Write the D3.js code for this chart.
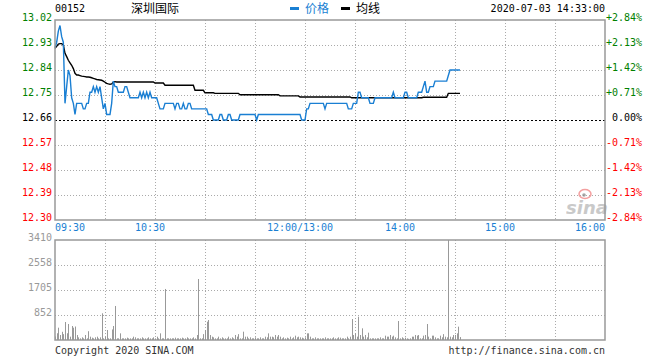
<!DOCTYPE html>
<html>
<head>
<meta charset="utf-8">
<script src="https://cdn.jsdelivr.net/npm/d3@7/dist/d3.min.js"></script>
<style>
html,body{margin:0;padding:0;background:#fff;}
svg text{font-family:"DejaVu Sans Mono",monospace;font-size:10px;}
</style>
</head>
<body>
<svg id="chart" width="660" height="360"></svg>
<script>
// ---------- data ----------
const stockCode = "00152";
const stockName = "深圳国际";
const timestamp = "2020-07-03 14:33:00";
const prevClose = 12.66;
const priceTicks = [13.02, 12.93, 12.84, 12.75, 12.66, 12.57, 12.48, 12.39, 12.30];
const pctTicks = ["+2.84%", "+2.13%", "+1.42%", "+0.71%", "0.00%", "-0.71%", "-1.42%", "-2.13%", "-2.84%"];
const timeLabels = ["09:30", "10:30", "12:00/13:00", "14:00", "15:00", "16:00"];
const timeLabelMinutes = [0, 60, 150, 210, 270, 330];
const gridMinutes = [30, 60, 90, 120, 150, 180, 210, 240, 270, 300];
const volTicks = [3410, 2558, 1705, 852];

// price per minute (09:30 .. 14:33, lunch skipped)
const price = [
12.92,12.94,12.98,13.00,12.96,12.94,12.72,12.78,12.84,12.82,
12.74,12.72,12.68,12.72,12.72,12.72,12.72,12.70,12.70,12.72,
12.72,12.76,12.76,12.78,12.76,12.78,12.76,12.78,12.74,12.70,
12.72,12.68,12.68,12.68,12.72,12.80,12.78,12.78,12.76,12.76,
12.76,12.76,12.78,12.78,12.76,12.74,12.74,12.74,12.74,12.74,
12.74,12.76,12.74,12.76,12.74,12.76,12.74,12.76,12.74,12.74,
12.74,12.74,12.72,12.70,12.70,12.70,12.72,12.72,12.72,12.72,
12.72,12.72,12.70,12.72,12.72,12.70,12.70,12.72,12.70,12.70,
12.72,12.72,12.70,12.70,12.70,12.70,12.70,12.70,12.70,12.70,
12.70,12.70,12.68,12.68,12.68,12.66,12.66,12.66,12.66,12.68,
12.68,12.66,12.66,12.66,12.68,12.68,12.66,12.66,12.66,12.66,
12.66,12.68,12.68,12.68,12.68,12.68,12.68,12.68,12.68,12.68,
12.68,12.66,12.68,12.68,12.68,12.68,12.68,12.68,12.68,12.68,
12.68,12.68,12.68,12.68,12.68,12.68,12.68,12.68,12.68,12.68,
12.68,12.68,12.68,12.68,12.68,12.68,12.68,12.68,12.66,12.66,
12.66,12.70,12.70,12.72,12.72,12.72,12.72,12.72,12.72,12.72,
12.72,12.72,12.70,12.72,12.72,12.72,12.72,12.72,12.72,12.72,
12.72,12.72,12.72,12.72,12.72,12.72,12.70,12.70,12.70,12.72,
12.72,12.72,12.76,12.76,12.74,12.74,12.74,12.74,12.74,12.72,
12.72,12.72,12.74,12.74,12.74,12.74,12.74,12.74,12.74,12.74,
12.74,12.74,12.74,12.76,12.74,12.74,12.74,12.74,12.74,12.74,
12.76,12.76,12.74,12.74,12.74,12.74,12.74,12.74,12.76,12.76,
12.76,12.78,12.80,12.76,12.76,12.78,12.78,12.78,12.80,12.80,
12.80,12.80,12.80,12.80,12.80,12.80,12.82,12.84,12.84,12.84,
12.84,12.84,12.84,12.84
];

// average price per minute
const avgPrice = [
12.918,12.925,12.933,12.935,12.935,12.930,12.900,12.888,12.875,12.866,
12.857,12.845,12.828,12.822,12.822,12.820,12.818,12.817,12.816,12.815,
12.815,12.814,12.812,12.810,12.808,12.806,12.805,12.804,12.803,12.800,
12.796,12.792,12.790,12.789,12.790,12.796,12.798,12.797,12.797,12.797,
12.797,12.797,12.797,12.797,12.797,12.797,12.797,12.797,12.797,12.797,
12.797,12.797,12.797,12.797,12.797,12.797,12.797,12.797,12.797,12.797,
12.793,12.793,12.793,12.793,12.793,12.793,12.785,12.785,12.785,12.785,
12.785,12.785,12.785,12.785,12.785,12.785,12.785,12.785,12.785,12.785,
12.785,12.785,12.785,12.785,12.767,12.767,12.767,12.767,12.767,12.767,
12.758,12.758,12.758,12.758,12.758,12.758,12.756,12.756,12.756,12.756,
12.756,12.756,12.756,12.756,12.756,12.756,12.756,12.756,12.756,12.756,
12.756,12.751,12.751,12.751,12.751,12.751,12.751,12.751,12.751,12.751,
12.751,12.751,12.751,12.751,12.751,12.751,12.751,12.751,12.751,12.751,
12.751,12.751,12.751,12.751,12.751,12.747,12.747,12.747,12.747,12.747,
12.747,12.747,12.747,12.747,12.747,12.747,12.747,12.743,12.743,12.743,
12.743,12.743,12.743,12.743,12.743,12.743,12.743,12.743,12.743,12.743,
12.743,12.743,12.743,12.743,12.743,12.743,12.743,12.743,12.743,12.743,
12.743,12.743,12.743,12.743,12.743,12.743,12.743,12.743,12.740,12.740,
12.740,12.740,12.740,12.740,12.740,12.740,12.740,12.740,12.740,12.740,
12.740,12.740,12.740,12.740,12.740,12.740,12.740,12.740,12.740,12.740,
12.740,12.740,12.740,12.740,12.740,12.740,12.740,12.740,12.740,12.740,
12.740,12.740,12.740,12.740,12.740,12.740,12.740,12.740,12.740,12.740,
12.740,12.742,12.742,12.742,12.742,12.742,12.742,12.742,12.742,12.742,
12.742,12.742,12.742,12.742,12.742,12.742,12.756,12.756,12.756,12.756,
12.756,12.756,12.756,12.756
];

// volume per minute
const volume = [
120,230,420,170,280,200,614,230,545,114,
477,420,460,170,91,57,91,57,170,57,
300,114,80,57,91,114,57,91,910,57,
114,341,57,57,360,477,1160,57,57,227,
57,57,57,80,57,57,57,114,91,57,
57,57,91,57,57,57,91,57,57,91,
57,114,57,227,57,57,1740,57,57,57,
57,57,80,57,57,57,80,57,57,91,
57,57,57,91,57,170,2080,57,57,200,
341,624,682,170,114,91,57,57,114,57,
91,57,57,57,114,57,91,57,170,114,
200,57,57,284,114,114,57,91,57,57,
91,57,57,91,57,57,114,91,227,114,
114,91,170,114,170,114,57,91,57,80,
57,114,57,91,148,91,114,91,80,57,
91,227,227,114,57,57,91,57,57,57,
57,57,91,57,57,57,57,91,57,57,
91,80,57,57,57,114,57,114,716,170,
227,114,795,170,398,114,170,91,250,57,
57,57,57,57,57,91,57,57,148,114,
114,170,114,148,91,57,648,57,91,57,
80,57,40,57,114,114,170,148,170,57,
57,148,170,545,114,57,148,148,91,57,
57,148,91,200,114,91,3410,114,91,170,
170,227,455,100
];

// ---------- drawing ----------
const svg = d3.select("#chart");
const blue = "#1a7fd3";
const green = "#008000";
const red = "#ff0000";
const gridColor = "#aaaaaa";
const borderColor = "#999999";

const x = d3.scaleLinear().domain([0, 330]).range([55, 605]);
const y = d3.scaleLinear().domain([12.30, 13.02]).range([220, 20]);
const yv = d3.scaleLinear().domain([0, 3410]).range([340, 240]);

// header
svg.append("text").attr("x", 55).attr("y", 12).text(stockCode);
svg.append("text").attr("x", 131).attr("y", 13)
  .style("font-family", "'Noto Sans CJK SC', sans-serif").style("font-size", "12px").text(stockName);
svg.append("rect").attr("x", 290).attr("y", 7).attr("width", 9).attr("height", 3).attr("fill", blue);
svg.append("text").attr("x", 305).attr("y", 13).attr("fill", blue)
  .style("font-family", "'Noto Sans CJK SC', sans-serif").style("font-size", "12px").text("价格");
svg.append("rect").attr("x", 341).attr("y", 7).attr("width", 9).attr("height", 3).attr("fill", "#000");
svg.append("text").attr("x", 356).attr("y", 13)
  .style("font-family", "'Noto Sans CJK SC', sans-serif").style("font-size", "12px").text("均线");
svg.append("text").attr("x", 605).attr("y", 12).attr("text-anchor", "end").text(timestamp);

// price panel grid
const pg = svg.append("g");
pg.selectAll("line.h").data(priceTicks.filter(v => v !== 13.02 && v !== 12.30 && v !== prevClose))
  .join("line").attr("class", "h")
  .attr("x1", x(0)).attr("x2", x(330))
  .attr("y1", d => Math.round(y(d)) + 0.5).attr("y2", d => Math.round(y(d)) + 0.5)
  .attr("stroke", gridColor).attr("stroke-dasharray", "1,2");
pg.selectAll("line.v").data(gridMinutes).join("line").attr("class", "v")
  .attr("x1", d => Math.round(x(d)) + 0.5).attr("x2", d => Math.round(x(d)) + 0.5)
  .attr("y1", y(13.02)).attr("y2", y(12.30))
  .attr("stroke", gridColor).attr("stroke-dasharray", "1,2");

// volume panel grid
const vg = svg.append("g");
vg.selectAll("line.h").data(volTicks.slice(1))
  .join("line").attr("class", "h")
  .attr("x1", x(0)).attr("x2", x(330))
  .attr("y1", d => Math.round(yv(d)) + 0.5).attr("y2", d => Math.round(yv(d)) + 0.5)
  .attr("stroke", gridColor).attr("stroke-dasharray", "1,2");
vg.selectAll("line.v").data(gridMinutes).join("line").attr("class", "v")
  .attr("x1", d => Math.round(x(d)) + 0.5).attr("x2", d => Math.round(x(d)) + 0.5)
  .attr("y1", yv(3410)).attr("y2", yv(0))
  .attr("stroke", gridColor).attr("stroke-dasharray", "1,2");

// sina watermark
const wm = svg.append("g").attr("opacity", 0.75);
wm.append("text").attr("x", 566).attr("y", 214)
  .style("font-family", "'DejaVu Sans', sans-serif").style("font-size", "18px")
  .style("font-style", "italic").style("font-weight", "bold")
  .attr("fill", "#b8b8b8").text("sina");
wm.append("ellipse").attr("cx", 585).attr("cy", 194).attr("rx", 6).attr("ry", 4.5)
  .attr("fill", "none").attr("stroke", "#f08080").attr("stroke-width", 1.5);
wm.append("circle").attr("cx", 584).attr("cy", 195).attr("r", 1.8).attr("fill", "#888");

// volume bars
svg.append("g").selectAll("rect").data(volume).join("rect")
  .attr("x", (d, i) => Math.round(x(i)))
  .attr("y", d => yv(d))
  .attr("width", 1)
  .attr("height", d => yv(0) - yv(d))
  .attr("fill", "#999999");

// prev close dashed line
svg.append("line")
  .attr("x1", x(0)).attr("x2", x(330))
  .attr("y1", Math.round(y(prevClose)) + 0.5).attr("y2", Math.round(y(prevClose)) + 0.5)
  .attr("stroke", "#000").attr("stroke-dasharray", "2,2");

// lines
const minuteLine = d3.line().x((d, i) => x(i)).y(d => y(d));
svg.append("path").datum(avgPrice).attr("d", minuteLine)
  .attr("fill", "none").attr("stroke", "#000").attr("stroke-width", 1.4);
svg.append("path").datum(price).attr("d", minuteLine)
  .attr("fill", "none").attr("stroke", blue).attr("stroke-width", 1.4);

// borders
svg.append("rect").attr("x", x(0)).attr("y", y(13.02))
  .attr("width", x(330) - x(0)).attr("height", y(12.30) - y(13.02))
  .attr("fill", "none").attr("stroke", borderColor).attr("stroke-width", 1.5);
svg.append("rect").attr("x", x(0)).attr("y", yv(3410))
  .attr("width", x(330) - x(0)).attr("height", yv(0) - yv(3410))
  .attr("fill", "none").attr("stroke", borderColor).attr("stroke-width", 1.5);

// price axis labels
const colorFor = v => v > prevClose ? green : (v < prevClose ? red : "#000");
svg.append("g").selectAll("text").data(priceTicks).join("text")
  .attr("x", 52).attr("y", d => y(d) + 1).attr("text-anchor", "end")
  .attr("fill", colorFor).text(d => d.toFixed(2));
svg.append("g").selectAll("text").data(pctTicks).join("text")
  .attr("x", 642).attr("y", (d, i) => y(priceTicks[i]) + 1).attr("text-anchor", "end")
  .attr("fill", (d, i) => colorFor(priceTicks[i])).text(d => d);

// time labels
svg.append("g").selectAll("text").data(timeLabels).join("text")
  .attr("x", (d, i) => i === 0 ? x(timeLabelMinutes[i]) : (i === timeLabels.length - 1 ? x(timeLabelMinutes[i]) : x(timeLabelMinutes[i]) - 5))
  .attr("y", 231)
  .attr("text-anchor", (d, i) => i === 0 ? "start" : (i === timeLabels.length - 1 ? "end" : "middle"))
  .attr("fill", blue).text(d => d);

// volume labels
svg.append("g").selectAll("text").data(volTicks).join("text")
  .attr("x", 52).attr("y", d => yv(d) + 1).attr("text-anchor", "end")
  .attr("fill", "#999").text(d => d);

// footer
svg.append("text").attr("x", 55).attr("y", 354).attr("fill", "#333").text("Copyright 2020 SINA.COM");
svg.append("text").attr("x", 605).attr("y", 354).attr("text-anchor", "end").attr("fill", "#333").text("http://finance.sina.com.cn");
</script>
</body>
</html>
